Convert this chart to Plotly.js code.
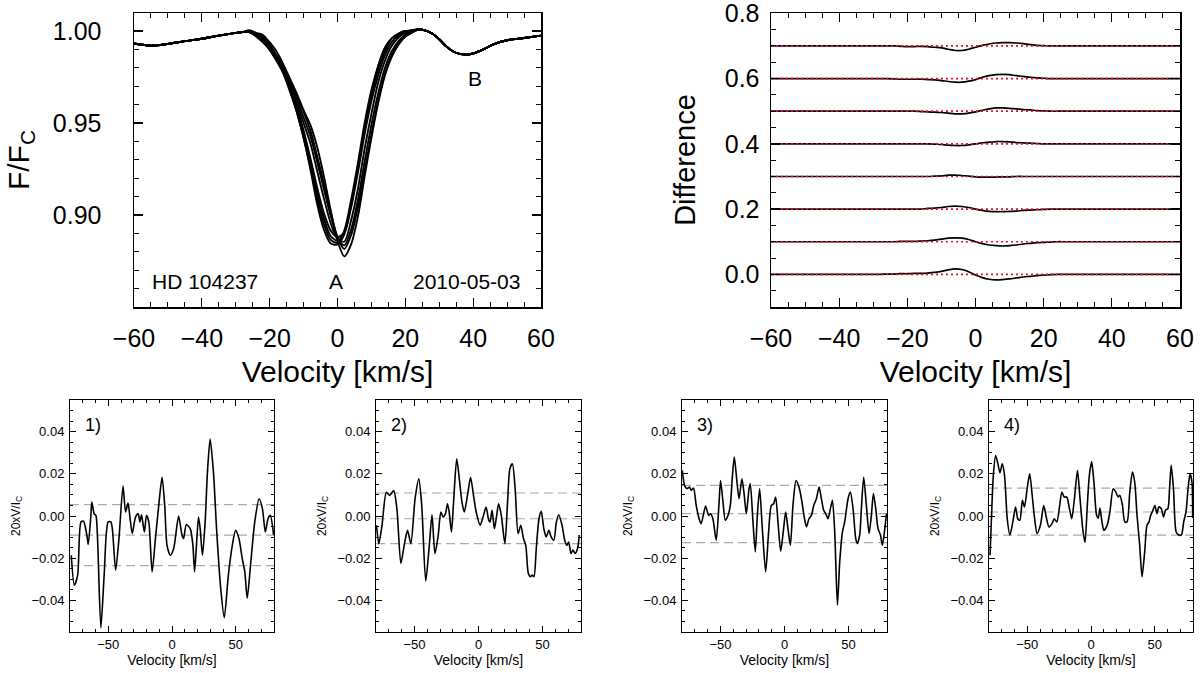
<!DOCTYPE html>
<html>
<head>
<meta charset="utf-8">
<script src="https://cdn.plot.ly/plotly-3.0.1.min.js"></script>
<style>html,body{margin:0;padding:0;background:#fff;}#chart{width:1200px;height:673px;}</style>
</head>
<body>
<div id="chart"></div>
<script>
// ---------- Top-left: line profiles (mean profile + individual deviations) ----------
const vel = [-60,-55,-50,-45,-40,-35,-30,-28,-26,-24,-22,-20,-18,-16,-14,-12,-10,-8,-6,-4,-2,0,2,4,6,8,10,12,14,16,18,20,22,24,26,28,30,32,34,36,38,40,43,46,50,55,60];
const meanFlux = [0.9932,0.9920,0.9930,0.9945,0.9958,0.9975,0.9990,0.9995,0.9994,0.9980,0.9958,0.9918,0.9860,0.9790,0.9700,0.9600,0.9480,0.9350,0.9200,0.9060,0.8945,0.8880,0.8875,0.8990,0.9160,0.9370,0.9560,0.9720,0.9840,0.9920,0.9965,0.9990,1.0003,1.0008,1.0002,0.9985,0.9955,0.9918,0.9890,0.9876,0.9872,0.9878,0.9900,0.9928,0.9950,0.9962,0.9975];
const diff0 = [0,0,0,0,0,0,0,0,0.001,0.001,0.002,0.002,0.003,0.003,0.004,0.006,0.009,0.014,0.017,0.015,0.008,-0.002,-0.010,-0.015,-0.017,-0.016,-0.014,-0.011,-0.008,-0.006,-0.004,-0.002,-0.001,0,0,0,0,0,0,0,0,0,0,0,0,0,0];
const diff1 = [0,0,0,0,0,0,0,0,0,0,0.001,0.001,0.001,0.002,0.003,0.005,0.008,0.011,0.012,0.011,0.007,0.000,-0.006,-0.010,-0.012,-0.013,-0.012,-0.010,-0.007,-0.005,-0.003,-0.002,-0.001,0,0,0,0,0,0,0,0,0,0,0,0,0,0];
const diff2 = [0,0,0,0,0,0,0,0,0,0,0,0,0,0,0.002,0.003,0.005,0.008,0.009,0.008,0.005,0,-0.004,-0.007,-0.008,-0.008,-0.007,-0.006,-0.004,-0.003,-0.002,-0.001,0,0,0,0,0,0,0,0,0,0,0,0,0,0,0];
const diff3 = [0,0,0,0,0,0,0,0,0,0,0,0,0,0,0,0.001,0.002,0.004,0.004,0.003,0.001,-0.001,-0.002,-0.002,-0.002,-0.001,-0.001,0,0,0,0,0,0,0,0,0,0,0,0,0,0,0,0,0,0,0,0];
const diff4 = [0,0,0,0,0,0,0,0,0,0,0,0,0,0,0,-0.001,-0.002,-0.004,-0.005,-0.005,-0.003,0,0.003,0.005,0.007,0.007,0.006,0.004,0.003,0.002,0.001,0,0,0,0,0,0,0,0,0,0,0,0,0,0,0,0];
const diff5 = [0,0,0,0,0,0,0,0,0,0,0,0,0,-0.001,-0.002,-0.003,-0.004,-0.006,-0.008,-0.008,-0.006,-0.002,0.003,0.007,0.010,0.010,0.009,0.007,0.005,0.004,0.002,0.001,0,0,0,0,0,0,0,0,0,0,0,0,0,0,0];
const diff6 = [0,0,0,0,0,0,0,0,0,-0.001,-0.002,-0.002,-0.002,-0.002,-0.003,-0.004,-0.006,-0.009,-0.011,-0.011,-0.008,-0.003,0.004,0.009,0.012,0.013,0.012,0.009,0.007,0.004,0.002,0.001,0,0,0,0,0,0,0,0,0,0,0,0,0,0,0];
const diff7 = [0,0,0,0,0,0,0,0,0,0,-0.001,-0.002,-0.002,-0.001,-0.002,-0.004,-0.006,-0.010,-0.014,-0.014,-0.010,-0.004,0.002,0.006,0.009,0.010,0.010,0.009,0.007,0.004,0.002,0.001,0,0,0,0,0,0,0,0,0,0,0,0,0,0,0];
const diffOffsets = [0.0,0.1,0.2,0.3,0.4,0.5,0.6,0.7];
const diffs = [diff0,diff1,diff2,diff3,diff4,diff5,diff6,diff7];

// ---------- Bottom: Stokes V profiles ----------
const v1 = [-79,-76.6,-74,-71.4,-69.4,-66.8,-65.7,-63.6,-62.9,-61,-59.7,-58.4,-55.8,-53.2,-50.1,-48,-46.8,-44.2,-41.6,-38.4,-36.4,-34.5,-33,-31.2,-28.6,-26.5,-25.2,-23.9,-22.6,-21.6,-20,-18.2,-15.6,-13,-10.4,-7.8,-5.7,-3.9,-1.3,1.3,5.2,7.8,9.1,11.2,14.3,16.4,17.7,19.5,20.8,22.1,23.9,26,27.8,29.9,32.5,35.1,38.2,41,44.2,47.3,49.9,52.5,55.1,57.1,59,61.6,64.9,68.3,70.9,73.2,75.3,77.1,79.7];
const s1 = [-0.0186,-0.0328,-0.028,-0.0028,-0.0025,-0.009,-0.0135,0.0003,0.0066,0.001,0.0003,-0.0107,-0.053,-0.028,-0.0028,-0.0028,-0.006,-0.0257,-0.0107,0.0142,0.0019,0.0061,-0.0005,-0.0083,-0.0005,0.0011,-0.0028,0.0006,-0.0044,-0.0076,0.0003,-0.0028,-0.0265,-0.0107,0.005,0.0184,0.005,-0.0139,-0.0186,-0.0154,0,-0.009,-0.0107,-0.0041,-0.006,-0.0139,-0.0265,-0.0107,-0.0005,-0.006,-0.0186,-0.0028,0.0208,0.0365,0.0208,-0.0076,-0.0343,-0.0482,-0.028,-0.0139,-0.0068,-0.0107,-0.0202,-0.0265,-0.039,-0.0233,-0.0028,0.0082,0.0035,-0.0076,-0.0013,0.0003,-0.009];
const v2 = [-79.6,-77.8,-75.3,-71.9,-69.3,-66.2,-63.7,-60.6,-58,-55.4,-52.8,-49.5,-46.6,-44.3,-41.2,-38.4,-36.3,-34,-31.4,-29.4,-27.6,-25.8,-24.2,-22.9,-21.1,-19.3,-17,-14.7,-12.9,-11.1,-8.2,-6.2,-3.9,-1.8,1.3,3.9,5.9,8,9,10.6,12.4,14.2,15.7,17.8,20.6,22.7,24.5,26.5,28.6,30.9,33,35.1,36.9,38.9,40.7,42,43.3,45.1,47.2,49,51,52.8,54.9,56.7,58.8,60.8,62.6,65.2,67.3,69,70.4,72.2,73.7,75.5,77.6,78.6];
const s2 = [-0.0044,-0.0131,-0.0044,0.0113,0.0098,0.0121,0.0035,-0.0225,-0.0139,-0.0068,-0.0131,0.0082,0.0176,0.005,-0.0309,-0.0139,0.0006,-0.0178,-0.009,0.0019,-0.0005,0.0011,0.0058,0.0019,-0.0076,0.0082,0.0271,0.016,0.0066,0.0019,0.0113,0.0184,0.0098,0.0019,-0.0044,0.0003,0.0043,-0.002,-0.0028,0.0027,-0.006,0.0003,0.0058,0.0003,-0.0131,0.0066,0.0224,0.0247,0.0129,-0.0083,-0.0044,-0.0107,-0.0139,-0.0272,-0.0288,-0.028,-0.0288,-0.0154,-0.0013,0.0022,-0.006,-0.0099,-0.0068,-0.0099,-0.0115,-0.0028,0.0006,-0.0044,-0.0115,-0.0139,-0.0123,-0.0178,-0.0162,-0.0178,-0.0146,-0.009];
const v3 = [-79.8,-78.0,-76.2,-74.1,-72.8,-71.0,-68.9,-66.3,-65.0,-61.6,-59.2,-57.7,-55.9,-53.3,-51.2,-49.9,-48.0,-46.2,-44.1,-42.3,-40.8,-39.2,-37.1,-35.5,-33.2,-31.4,-29.8,-27.7,-26.7,-24.6,-22.8,-21.2,-19.4,-17.3,-14.7,-12.4,-10.3,-8.5,-6.9,-5.1,-3.0,-0.7,0.9,2.7,4.6,6.6,9.0,11.3,13.2,15.2,17.1,19.1,21.0,22.8,24.9,27.0,28.8,30.6,32.2,34.0,35.8,37.4,39.2,41.3,43.1,45.2,47.0,49.6,51.4,53.5,55.6,56.9,58.7,60.0,61.8,63.9,66.0,67.8,69.4,71.2,73.0,74.9,76.4,78.3,79.6];
const s3 = [0.0216,0.0145,0.0129,0.0137,0.0121,0.0132,0.005,-0.002,-0.0036,0.0047,0.0003,0.0011,-0.0013,-0.0115,0.005,0.0168,0.0066,-0.002,0.0003,0.005,0.0176,0.0279,0.0161,0.0082,0.0176,0.0098,0.0011,0.0129,0.0153,-0.0028,-0.017,0.0003,0.0129,-0.006,-0.0265,-0.0076,0.005,0.0058,0.009,-0.0028,-0.0167,-0.006,0.0019,-0.006,-0.0139,0.005,0.0168,0.0137,0.0082,0.0003,-0.0052,-0.0013,0.0003,0.005,0.0082,0.0137,0.0082,0.0027,0.0011,-0.0013,0.0035,0.0074,-0.0076,-0.0422,-0.0217,-0.0076,-0.0028,0.0082,0.0113,0.0035,-0.0107,-0.0131,-0.009,0.0035,0.0184,0.005,-0.0083,0.0003,0.0106,0.0035,-0.006,-0.009,-0.0139,-0.006,0.0011];
const v4 = [-79.2,-78.2,-76.6,-74.8,-73,-71.4,-69.6,-67.8,-65.7,-63.6,-61.3,-59.2,-57.4,-55.8,-53.8,-52.2,-50.1,-48.1,-46,-44.2,-42.3,-39.7,-37.1,-35.1,-33,-30.6,-28.8,-26.8,-24.7,-22.9,-21,-19,-16.9,-15.1,-13,-10.6,-8.6,-6.5,-4.7,-2.9,-1.3,0.5,2.3,4.4,5.7,7,8.6,10.1,12.7,14.8,17.4,19.2,21.3,22.6,24.7,26.5,28.3,30.4,32.5,34.3,36.1,38.2,40,42.1,43.9,45.5,46.8,48.6,50.1,51.7,53.2,55.1,56.9,58.4,60.3,61.6,62.9,64.7,66.8,68.8,70.9,72.7,74.5,76.1,77.7,79.2,79.7];
const s4 = [-0.0186,-0.0028,0.0192,0.0287,0.0247,0.0205,0.0247,0.0192,-0.0013,-0.009,-0.0028,0.0043,-0.0013,-0.002,0.0074,0.0043,0.0129,0.02,0.009,-0.0013,-0.0083,-0.0044,0.005,-0.0005,-0.0052,-0.0036,-0.0013,-0.0028,0.0043,0.0113,0.009,0.009,0.0035,-0.0013,0.0082,0.0216,0.0082,-0.006,-0.0126,0.005,0.0192,0.0258,0.016,0.0003,-0.001,0.0038,-0.0028,-0.0068,-0.0044,0.0019,0.0129,0.0117,0.009,0.0098,0.005,-0.0028,-0.0028,0.0113,0.0208,0.016,0.0003,-0.0139,-0.0288,-0.017,-0.0044,-0.0028,0.0003,0.0027,0.005,0.0011,0.0043,0.0035,-0.0005,0.0027,0.0035,0.0129,0.024,0.0129,-0.0076,-0.009,-0.009,-0.0028,0.0019,0.0129,0.02,0.016,-0.001];
// dashed reference levels per panel
const levels1 = [0.0054,-0.0091,-0.0235];
const levels2 = [0.0109,-0.0013,-0.0131];
const levels3 = [0.0145,0.0011,-0.0126];
const levels4 = [0.0132,0.0019,-0.0091];
const panelLabels = ['1)','2)','3)','4)'];

const FONT = 'Liberation Sans, Arial, Helvetica, sans-serif';
const traces = [];

// top-left spectra
diffs.forEach(d => {
  traces.push({x: vel, y: meanFlux.map((m,i)=>m+d[i]), type:'scatter', mode:'lines',
    line:{color:'black', width:1.9, shape:'spline', smoothing:0.8}, xaxis:'x', yaxis:'y', showlegend:false, hoverinfo:'skip'});
});
// top-right differences
diffs.forEach((d,k) => {
  traces.push({x: vel, y: d.map(v=>v+diffOffsets[k]), type:'scatter', mode:'lines',
    line:{color:'black', width:1.7, shape:'spline', smoothing:0.8}, xaxis:'x2', yaxis:'y2', showlegend:false, hoverinfo:'skip'});
});
diffOffsets.forEach(o => {
  traces.push({x:[-60,60], y:[o,o], type:'scatter', mode:'lines',
    line:{color:'#e8102a', width:1.7, dash:'2px,3px'}, xaxis:'x2', yaxis:'y2', showlegend:false, hoverinfo:'skip'});
});
// bottom panels
const bottom = [[v1,s1,levels1],[v2,s2,levels2],[v3,s3,levels3],[v4,s4,levels4]];
bottom.forEach((p,i) => {
  const xa = 'x'+(i+3), ya = 'y'+(i+3);
  p[2].forEach(l => {
    traces.push({x:[-80,80], y:[l,l], type:'scatter', mode:'lines',
      line:{color:'#aaaaaa', width:1.2, dash:'9px,5px'}, xaxis:xa, yaxis:ya, showlegend:false, hoverinfo:'skip'});
  });
  traces.push({x:p[0], y:p[1], type:'scatter', mode:'lines',
    line:{color:'black', width:1.6, shape:'spline', smoothing:0.7}, xaxis:xa, yaxis:ya, showlegend:false, hoverinfo:'skip', cliponaxis:true});
});

function ax(opts){
  return Object.assign({
    showline:true, linecolor:'black', linewidth:1.5, mirror:'allticks',
    ticks:'inside', tickcolor:'black', tickwidth:1.3, ticklen:9,
    showgrid:false, zeroline:false, fixedrange:true, ticklabeloverflow:'allow',
    tickfont:{family:FONT, size:25, color:'black'}
  }, opts);
}
const domTopY = [1-307/673, 1-13/673];
const domBotY = [1-632/673, 1-400/673];
const botX = [[70,274],[376,581],[682,887],[989,1193]];

const layout = {
  width:1200, height:673, margin:{l:0,r:0,t:0,b:0}, paper_bgcolor:'white', plot_bgcolor:'white',
  font:{family:FONT, color:'black'}, showlegend:false,
  xaxis: ax({domain:[134/1200,541/1200], anchor:'y', range:[-60,60], tickvals:[-60,-40,-20,0,20,40,60],
    minor:{dtick:5, ticklen:5, ticks:'inside', tickcolor:'black', tickwidth:1}, ticklabelstandoff:8,
    title:{text:'Velocity [km/s]', font:{family:FONT, size:30, color:'black'}, standoff:10}}),
  yaxis: ax({domain:domTopY, anchor:'x', range:[0.85,1.0098], tickvals:[0.90,0.95,1.00], tickformat:'.2f',
    minor:{dtick:0.01, ticklen:5, ticks:'inside', tickcolor:'black', tickwidth:1}, ticklabelstandoff:26,
    title:{text:'F/F<sub>C</sub>', font:{family:FONT, size:30, color:'black'}, standoff:14}}),
  xaxis2: ax({domain:[771/1200,1180/1200], anchor:'y2', range:[-60,60], tickvals:[-60,-40,-20,0,20,40,60],
    minor:{dtick:5, ticklen:5, ticks:'inside', tickcolor:'black', tickwidth:1}, ticklabelstandoff:8,
    title:{text:'Velocity [km/s]', font:{family:FONT, size:30, color:'black'}, standoff:10}}),
  yaxis2: ax({domain:domTopY, anchor:'x2', range:[-0.1,0.801], tickvals:[0,0.2,0.4,0.6,0.8], tickformat:'.1f',
    minor:{dtick:0.05, ticklen:5, ticks:'inside', tickcolor:'black', tickwidth:1}, ticklabelstandoff:5,
    title:{text:'Difference', font:{family:FONT, size:29, color:'black'}, standoff:20}}),
  annotations: [
    {xref:'x', yref:'y', x:-39, y:0.8636, text:'HD 104237', showarrow:false, font:{family:FONT, size:21, color:'black'}},
    {xref:'x', yref:'y', x:-0.5, y:0.8636, text:'A', showarrow:false, font:{family:FONT, size:21, color:'black'}},
    {xref:'x', yref:'y', x:38, y:0.8636, text:'2010-05-03', showarrow:false, font:{family:FONT, size:21, color:'black'}},
    {xref:'x', yref:'y', x:40.5, y:0.974, text:'B', showarrow:false, font:{family:FONT, size:21, color:'black'}}
  ]
};
for (let i=0;i<4;i++){
  const n = i+3;
  layout['xaxis'+n] = ax({domain:[botX[i][0]/1200, botX[i][1]/1200], anchor:'y'+n, range:[-80,80], tickvals:[-50,0,50],
    linewidth:1, tickwidth:1, ticklen:6, tickfont:{family:FONT, size:13, color:'black'},
    minor:{dtick:10, ticklen:3, ticks:'inside', tickcolor:'black', tickwidth:1}, ticklabelstandoff:0,
    title:{text:'Velocity [km/s]', font:{family:FONT, size:14, color:'black'}, standoff:4}});
  layout['yaxis'+n] = ax({domain:domBotY, anchor:'x'+n, range:[-0.055,0.055], tickvals:[-0.04,-0.02,0,0.02,0.04], tickformat:'.2f',
    linewidth:1, tickwidth:1, ticklen:6, tickfont:{family:FONT, size:13, color:'black'},
    minor:{dtick:0.005, ticklen:3, ticks:'inside', tickcolor:'black', tickwidth:1}, ticklabelstandoff:2,
    title:{text:'20xV/I<sub>C</sub>', font:{family:FONT, size:12, color:'black'}, standoff:8}});
  layout.annotations.push({xref:'x'+n, yref:'y'+n, x:-62, y:0.043, text:panelLabels[i], showarrow:false,
    font:{family:FONT, size:18, color:'black'}});
}
Plotly.newPlot('chart', traces, layout, {staticPlot:true, displayModeBar:false});
</script>
</body>
</html>
